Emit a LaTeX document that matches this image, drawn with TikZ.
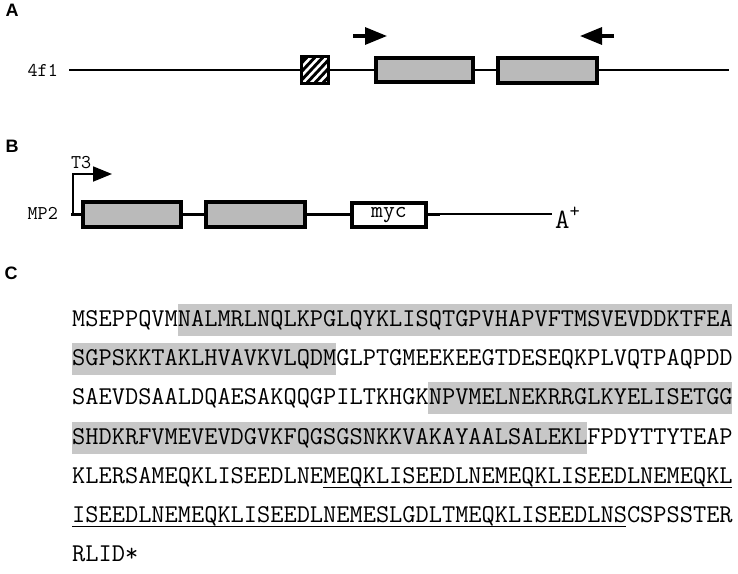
\documentclass[tikz,border=0pt]{standalone}
\usepackage{fontspec}
\newfontfamily\panelfont{Liberation Sans}
\usetikzlibrary{arrows.meta}

\begin{document}
\begin{tikzpicture}[x=1pt,y=1pt,yscale=-1,xscale=1,
  panel/.style={font=\panelfont\bfseries\fontsize{18}{18}\selectfont, inner sep=0},
  genelabel/.style={font=\ttfamily\fontsize{19.5}{19.5}\selectfont, inner sep=0},
  seqtext/.style={font=\ttfamily\fontsize{25.65}{25.65}\selectfont, inner sep=0, anchor=base west},
  exonbox/.style={draw, line width=3.4, fill=black!27, inner sep=0},
  hilite/.style={fill=black!22},
  backbone/.style={line width=2.8},
  primer/.style={line width=3.2, -{Triangle[length=22pt,width=17pt]}}]
\useasboundingbox (0,0) rectangle (738,573);
\def\cw{13.2}

% Text Node
\node[panel] (lblA) at (12,10) {A};
\node[panel] (lblB) at (12,146) {B};
\node[panel] (lblC) at (11,273) {C};

%Straight Lines: 4f1 backbone
\node[genelabel, anchor=east] (name4f1) at (58,70) {4f1};
\coordinate (startA) at (69,70);
\coordinate (endA) at (729,70);
\draw[backbone] (startA) -- (endA);
%Shape: Hatched square
\node[inner sep=0, minimum width=26, minimum height=26] (hatch) at (315,70) {};
\fill[black] (hatch.south west) rectangle (hatch.north east);
\begin{scope}
\clip (hatch.south west) rectangle (hatch.north east);
\foreach \s in {284,292,...,332}
  \draw[white, line width=2.6] (\s,86) -- (\s+30,54);
\end{scope}
\draw[line width=3] (hatch.south west) rectangle (hatch.north east);
%Shape: Rectangle
\node[exonbox, minimum width=97, minimum height=24] (exA1) at (424.5,70) {};
\node[exonbox, minimum width=99, minimum height=25] (exA2) at (547.5,70.5) {};
%Straight Lines: primers
\coordinate (fwdtail) at (353,36);
\coordinate (fwdtip) at (387,36);
\coordinate (revtail) at (614,36);
\coordinate (revtip) at (580,36);
\draw[primer] (fwdtail) -- (fwdtip);
\draw[primer] (revtail) -- (revtip);

%Straight Lines: MP2 backbone
\node[genelabel, anchor=east] (nameMP2) at (58,213) {MP2};
\coordinate (startB) at (71,214);
\coordinate (stubB) at (440,214);
\coordinate (endB) at (552,214);
\draw[line width=3] (startB) -- (stubB);
\draw[line width=1.3] (stubB) -- (endB);
\node[exonbox, minimum width=98, minimum height=25] (exB1) at (132,214.5) {};
\node[exonbox, minimum width=99, minimum height=25] (exB2) at (255.5,214.5) {};
\node[draw, line width=3.4, fill=white, inner sep=0, minimum width=74, minimum height=24,
  font=\ttfamily\fontsize{23}{23}\selectfont] (myc) at (389,215) {myc};
% Text Node
\node[anchor=west, inner sep=0, font=\ttfamily\fontsize{28}{28}\selectfont] (polyA) at (555,218)
  {A\raisebox{0.4em}{\fontsize{20}{20}\selectfont +}};
%Straight Lines: T3 promoter
\coordinate (t3foot) at (73.3,213);
\coordinate (t3corner) at (73.3,174);
\coordinate (t3tip) at (112,174);
\draw[line width=1.8, -{Triangle[length=19pt,width=15pt]}] (t3foot) -- (t3corner) -- (t3tip);
\node[genelabel, anchor=south west] (t3) at (71,169) {T3};

%Shape: Rectangle highlights
\fill[hilite] (72+8*\cw,304) rectangle (72+50*\cw,336);
\fill[hilite] (72,343) rectangle (72+20*\cw,375);
\fill[hilite] (72+27*\cw,382) rectangle (72+50*\cw,414);
\fill[hilite] (72,422) rectangle (72+39*\cw,454);

% Text Node: sequence
\node[seqtext] (seq1) at (72,326.5) {MSEPPQVMNALMRLNQLKPGLQYKLISQTGPVHAPVFTMSVEVDDKTFEA};
\node[seqtext] (seq2) at (72,365.7) {SGPSKKTAKLHVAVKVLQDMGLPTGMEEKEEGTDESEQKPLVQTPAQPDD};
\node[seqtext] (seq3) at (72,404.9) {SAEVDSAALDQAESAKQQGPILTKHGKNPVMELNEKRRGLKYELISETGG};
\node[seqtext] (seq4) at (72,444.1) {SHDKRFVMEVEVDGVKFQGSGSNKKVAKAYAALSALEKLFPDYTTYTEAP};
\node[seqtext] (seq5) at (72,483.3) {KLERSAMEQKLISEEDLNEMEQKLISEEDLNEMEQKLISEEDLNEMEQKL};
\node[seqtext] (seq6) at (72,522.5) {ISEEDLNEMEQKLISEEDLNEMESLGDLTMEQKLISEEDLNSCSPSSTER};
\node[seqtext] (seq7) at (72,561.7) {RLID*};

%Straight Lines: myc tags
\draw[line width=1.2] (72+19*\cw,487.5) -- (72+50*\cw,487.5);
\draw[line width=1.2] (72,526.5) -- (72+42*\cw,526.5);

\end{tikzpicture}
\end{document}
